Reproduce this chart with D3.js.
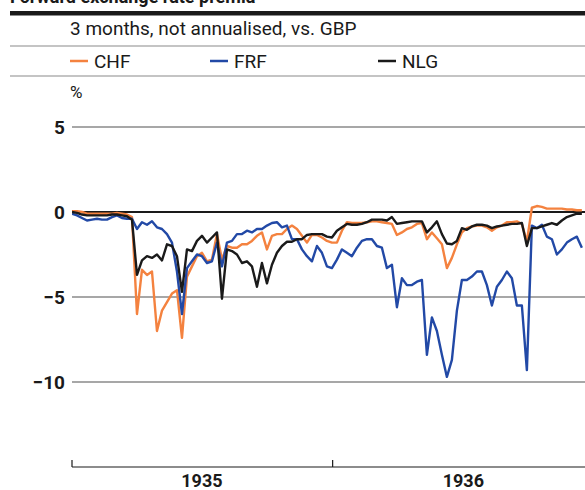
<!DOCTYPE html>
<html>
<head>
<meta charset="utf-8">
<script src="https://cdn.jsdelivr.net/npm/d3@7"></script>
<style>
  body { margin: 0; background: #fff; }
  svg text { font-family: "Roboto", "Noto Sans", sans-serif; }
</style>
</head>
<body>
<div id="chart"></div>
<script>
// weekly observations, 3-month forward premium vs GBP, %
var startDate = new Date(1935, 0, 1);
var chf = [0.05, 0.05, 0, -0.1, -0.1, -0.1, -0.1, -0.1, -0.1, -0.05,
  -0.1, -0.15, -0.3, -6.0, -3.4, -3.7, -3.5, -7.0, -5.8, -5.3,
  -4.8, -4.6, -7.4, -3.8, -3.2, -2.6, -2.4, -2.9, -2.8, -1.3,
  -2.8, -2.0, -2.1, -2.1, -1.9, -1.9, -1.7, -1.4, -1.2, -2.2,
  -1.4, -1.3, -1.3, -1.0, -0.8, -1.0, -1.4, -1.8, -1.35, -1.35,
  -1.5, -1.7, -1.8, -1.8, -1.1, -0.6, -0.65, -0.65, -0.65, -0.6,
  -0.55, -0.55, -0.6, -0.65, -0.7, -1.35, -1.2, -1.0, -0.9, -0.7,
  -0.65, -1.6, -1.2, -1.55, -1.9, -3.3, -2.7, -1.9, -1.2, -0.95,
  -0.85, -0.8, -0.8, -0.9, -1.1, -0.9, -0.8, -0.6, -0.6, -0.55,
  -0.7, -1.75, 0.25, 0.35, 0.3, 0.2, 0.2, 0.2, 0.2, 0.15,
  0.15, 0.1, 0.1];
var frf = [-0.1, -0.2, -0.35, -0.5, -0.45, -0.4, -0.45, -0.45, -0.3, -0.2,
  -0.35, -0.4, -0.4, -1.0, -0.6, -0.75, -0.55, -0.9, -1.0, -1.3,
  -1.8, -3.5, -6.0, -3.3, -2.9, -2.5, -2.6, -3.0, -2.9, -1.8,
  -3.2, -1.8, -1.7, -1.3, -1.3, -1.1, -1.2, -1.0, -1.0, -0.8,
  -0.65, -0.6, -0.9, -0.8, -1.6, -1.6, -2.2, -2.6, -2.9, -2.0,
  -2.4, -3.2, -3.3, -2.8, -2.2, -2.4, -2.6, -2.1, -1.7, -1.6,
  -1.6, -2.0, -2.1, -3.3, -3.1, -5.6, -3.9, -4.3, -4.3, -4.1,
  -4.0, -8.4, -6.2, -7.0, -8.4, -9.7, -8.7, -5.8, -4.0, -4.0,
  -3.8, -3.5, -3.5, -4.3, -5.5, -4.4, -4.0, -3.5, -3.9, -5.5,
  -5.5, -9.3, -0.8, -0.95, -0.75, -1.45, -1.6, -2.5, -2.2, -1.8,
  -1.6, -1.45, -2.1];
var nlg = [0, -0.05, -0.15, -0.2, -0.2, -0.2, -0.2, -0.2, -0.15, -0.15,
  -0.2, -0.25, -0.45, -3.7, -2.85, -2.6, -2.7, -2.5, -2.85, -1.9,
  -2.0, -2.6, -4.7, -2.2, -2.3, -1.7, -1.4, -1.8, -1.5, -1.2,
  -5.1, -2.2, -2.3, -2.5, -3.0, -2.9, -3.2, -4.4, -3.0, -4.2,
  -3.1, -2.4, -2.0, -1.75, -1.75, -1.6, -1.6, -1.35, -1.3, -1.3,
  -1.3, -1.45, -1.5, -1.1, -0.9, -0.7, -0.75, -0.75, -0.7, -0.6,
  -0.45, -0.45, -0.45, -0.5, -0.3, -0.7, -0.65, -0.6, -0.55, -0.55,
  -0.55, -1.2, -0.9, -0.55, -1.3, -1.85, -1.9, -1.7, -0.95, -1.05,
  -0.85, -0.75, -0.75, -0.8, -0.95, -0.85, -0.8, -0.75, -0.7, -0.7,
  -0.65, -2.0, -0.95, -0.95, -0.85, -0.75, -0.65, -0.75, -0.5, -0.3,
  -0.2, -0.1, -0.1];
var seriesNames = ["CHF", "FRF", "NLG"];
var seriesColors = ["#f4823f", "#2249a6", "#1a1a1a"];
var yTicks = [5, 0, -5, -10];
var yearLabels = [1935, 1936];

var W = 585, H = 490;
var svg = d3.select("#chart").append("svg")
    .attr("width", W).attr("height", H);

var x = d3.scaleTime()
    .domain([new Date(1935, 0, 1), new Date(1937, 0, 1)])
    .range([72, 594]);
var y = d3.scaleLinear().domain([-10, 5]).range([382, 127]);

var dates = d3.range(chf.length).map(i => d3.timeDay.offset(startDate, 7 * i));

// header rules and texts
svg.append("text").attr("x", 10).attr("y", 3)
    .attr("font-size", 18).attr("font-weight", "bold").attr("fill", "#1a1a1a")
    .text("Forward exchange rate premia");
svg.append("rect").attr("x", 10).attr("y", 11).attr("width", W - 10).attr("height", 4.5)
    .attr("fill", "#1a1a1a");
svg.append("text").attr("x", 70).attr("y", 35)
    .attr("font-size", 19).attr("fill", "#1a1a1a")
    .text("3 months, not annualised, vs. GBP");
svg.append("line").attr("x1", 10).attr("x2", W).attr("y1", 46).attr("y2", 46)
    .attr("stroke", "#8a8a8a").attr("stroke-width", 1.2);
svg.append("line").attr("x1", 10).attr("x2", W).attr("y1", 76).attr("y2", 76)
    .attr("stroke", "#8a8a8a").attr("stroke-width", 1.2);

var legendX = [70, 210, 378];
var legend = svg.selectAll(".leg").data(seriesNames).enter().append("g")
    .attr("transform", (d, i) => "translate(" + legendX[i] + ",61)");
legend.append("line").attr("x1", 0).attr("x2", 18).attr("y1", 0).attr("y2", 0)
    .attr("stroke", (d, i) => seriesColors[i]).attr("stroke-width", 2.5);
legend.append("text").attr("x", 24).attr("y", 6.5)
    .attr("font-size", 19).attr("fill", "#1a1a1a").text(d => d);

svg.append("text").attr("x", 70).attr("y", 98)
    .attr("font-size", 17).attr("fill", "#1a1a1a").text("%");

// y grid + labels
var grid = svg.append("g").selectAll("g").data(yTicks).enter().append("g")
    .attr("transform", d => "translate(0," + y(d) + ")");
grid.append("line").attr("x1", 72).attr("x2", W)
    .attr("stroke", d => d === 0 ? "#1a1a1a" : "#8a8a8a")
    .attr("stroke-width", d => d === 0 ? 2.2 : 1.3);
grid.append("text").attr("x", 65).attr("dy", "0.36em")
    .attr("text-anchor", "end").attr("font-size", 19).attr("font-weight", "bold")
    .attr("fill", "#1a1a1a")
    .text(d => d < 0 ? "\u2212" + Math.abs(d) : d);

// lines
var clip = svg.append("clipPath").attr("id", "plotclip")
    .append("rect").attr("x", 72).attr("y", 100).attr("width", W - 72).attr("height", 340);
var line = d3.line().x((d, i) => x(dates[i])).y(d => y(d));
svg.append("g").attr("clip-path", "url(#plotclip)")
    .selectAll("path").data([chf, frf, nlg]).enter().append("path")
    .attr("d", line)
    .attr("fill", "none")
    .attr("stroke", (d, i) => seriesColors[i])
    .attr("stroke-width", 2.4)
    .attr("stroke-linejoin", "round");

// x axis
var xAxis = svg.append("g").attr("transform", "translate(0,467)");
xAxis.append("line").attr("x1", 72).attr("x2", W).attr("stroke", "#1a1a1a").attr("stroke-width", 1.2);
xAxis.selectAll(".tk").data([new Date(1935, 0, 1), new Date(1936, 0, 1)]).enter().append("line")
    .attr("x1", d => x(d)).attr("x2", d => x(d)).attr("y1", 0).attr("y2", -7)
    .attr("stroke", "#1a1a1a").attr("stroke-width", 1.2);
xAxis.selectAll("text").data(yearLabels).enter().append("text")
    .attr("x", d => x(new Date(d, 6, 2)))
    .attr("y", 20).attr("text-anchor", "middle")
    .attr("font-size", 18).attr("font-weight", "bold").attr("fill", "#1a1a1a")
    .text(d => d);
</script>
</body>
</html>
